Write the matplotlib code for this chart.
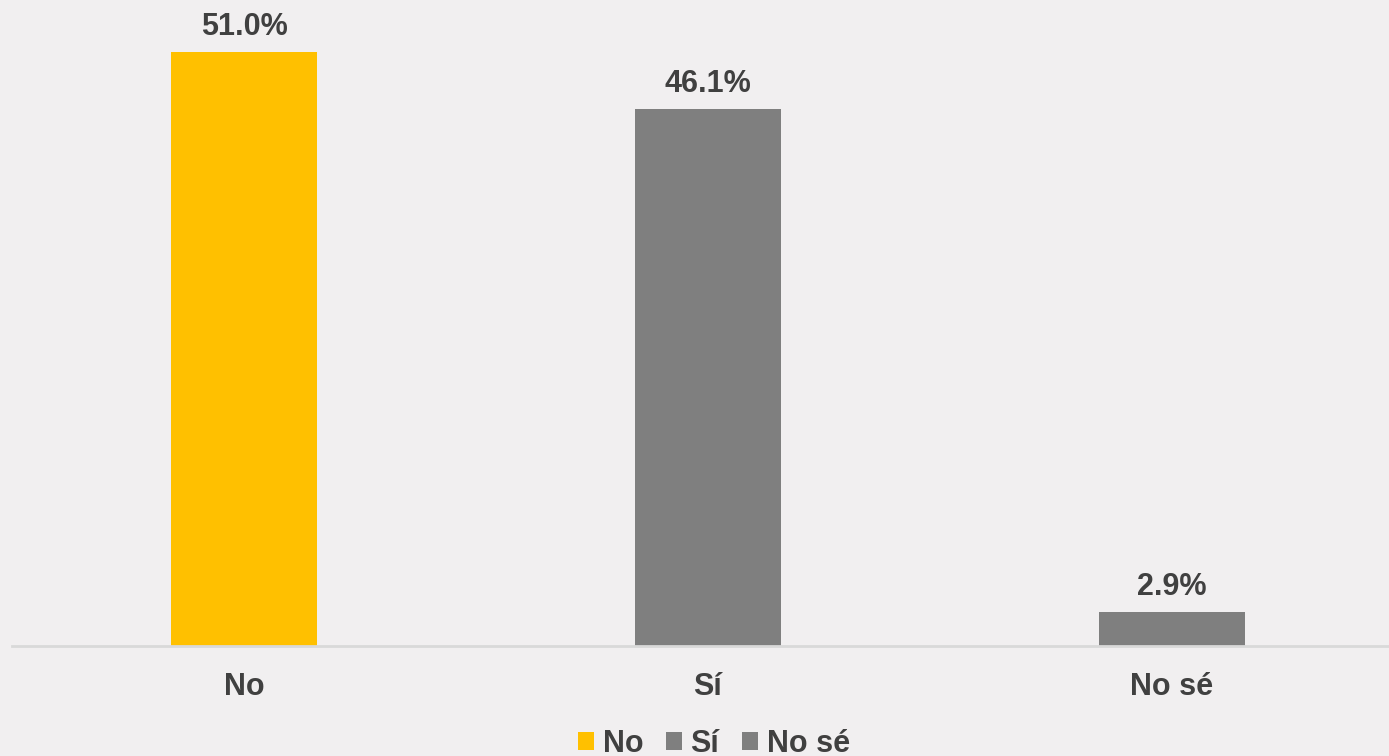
import matplotlib
matplotlib.use("Agg")
import matplotlib.pyplot as plt
from matplotlib.patches import Patch

categories = ["No", "Sí", "No sé"]
values = [51.0, 46.1, 2.9]
colors = ["#FFC000", "#7F7F7F", "#7F7F7F"]

bg = "#F1EFF0"
txt = "#404040"
plt.rcParams['font.family'] = ['Liberation Sans', 'DejaVu Sans']

W, H = 1389, 756
fig = plt.figure(figsize=(W/100, H/100), dpi=100, facecolor=bg)
# axes spanning from x=12px to 1404px, bottom at y=646px, top at y=0
ax = fig.add_axes([12/W, (H-646)/H, 1392/W, 646/H])
ax.set_facecolor(bg)
ax.patch.set_alpha(0)

x = list(range(len(categories)))
bars = ax.bar(x, values, width=0.315, color=colors)
ax.set_xlim(-0.5, 2.5)
ax.set_ylim(0, 646/11.647)

for xi, v in zip(x, values):
    ax.annotate(f"{v:.1f}%", (xi, v), xytext=(0, 12.2), textcoords="offset points",
                ha="center", va="baseline", fontsize=22, fontweight="bold", color=txt)

for s in ["top", "right", "left"]:
    ax.spines[s].set_visible(False)
ax.spines["bottom"].set_color("#D9D9D9")
ax.spines["bottom"].set_linewidth(2)
ax.set_yticks([])
ax.set_xticks(x)
ax.set_xticklabels(categories, fontsize=22, fontweight="bold", color=txt)
ax.tick_params(axis="x", length=0, pad=19)

handles = [Patch(facecolor=c, edgecolor="none") for c in colors]
fig.legend(handles, categories, loc="center", bbox_to_anchor=(714/W, 12/H),
           ncol=3, frameon=False, handlelength=0.52, handleheight=0.52,
           handletextpad=0.28, columnspacing=0.75,
           prop={"family": "Liberation Sans", "weight": "bold", "size": 22},
           labelcolor=txt)

fig.savefig("out.png", dpi=100, facecolor=bg)
